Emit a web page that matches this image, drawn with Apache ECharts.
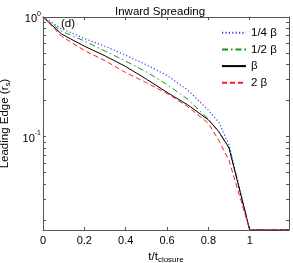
<!DOCTYPE html>
<html><head><meta charset="utf-8">
<script src="https://cdn.jsdelivr.net/npm/echarts@6/dist/echarts.min.js"></script>
<style>html,body{margin:0;padding:0;background:#fff}#c{width:293px;height:263px}</style>
</head><body><div id="c"></div>
<script>
// ---- data ----
const YMIN = 0.0165;               // bottom of the y range (axis floor)
const tValues = [0, 0.09, 0.2, 0.3, 0.4, 0.5, 0.6, 0.7, 0.8, 0.85, 0.9, 1.0, 1.19];
const quarterBeta = [1, 0.80, 0.66, 0.569, 0.479, 0.398, 0.324, 0.245, 0.166, 0.132, 0.085, YMIN, YMIN];
const halfBeta    = [1, 0.76, 0.63, 0.519, 0.427, 0.347, 0.272, 0.205, 0.14, 0.11, 0.081, YMIN, YMIN];
const beta        = [1, 0.72, 0.57, 0.473, 0.385, 0.302, 0.234, 0.184, 0.138, 0.110, 0.080, YMIN, YMIN];
const twoBeta     = [1, 0.69, 0.525, 0.431, 0.343, 0.282, 0.229, 0.178, 0.129, 0.093, 0.063, YMIN, YMIN];
const seriesNames = ['1/4 \u03b2', '1/2 \u03b2', '\u03b2', '2 \u03b2'];
const xTickLabels = [0, 0.2, 0.4, 0.6, 0.8, 1];
const yMajor = [0.1, 1];
const yMinor = [0.02,0.03,0.04,0.05,0.06,0.07,0.08,0.09,0.1,0.2,0.3,0.4,0.5,0.6,0.7,0.8,0.9,1];

const L = Math.log10;
const pts = vals => tValues.map((t, i) => [t, L(vals[i])]);
const FONT = 'Liberation Sans, Arial, sans-serif';
const AX = '#555';

const yLabel = v => Math.abs(v) < 1e-9 ? '{b|10}{s|0}' : '{b|10}{s|' + Math.round(v) + '}';

const baseX = {
  type: 'value', min: 0, max: 1.19,
  axisLine: {show: true, onZero: false, lineStyle: {color: AX, width: 1}},
  axisTick: {show: true, inside: true, length: 3, lineStyle: {color: AX}, customValues: xTickLabels},
  splitLine: {show: false}
};
const baseY = {
  type: 'value', min: L(YMIN), max: 0,
  axisLine: {show: true, onZero: false, lineStyle: {color: AX, width: 1}},
  axisTick: {show: true, inside: true, length: 3, lineStyle: {color: AX}, customValues: yMinor.map(L)},
  splitLine: {show: false}
};

const chart = echarts.init(document.getElementById('c'), null, {renderer: 'canvas'});
chart.setOption({
  animation: false,
  backgroundColor: '#fff',
  title: [
    {text: 'Inward Spreading', left: 110, top: 1,
      textStyle: {fontFamily: FONT, fontSize: 11.5, fontWeight: 'normal', color: '#000'}},
    {text: '(d)', left: 61, top: 18, padding: 0,
      textStyle: {fontFamily: FONT, fontSize: 11.5, fontWeight: 'normal', color: '#000'}}
  ],
  grid: {left: 43, right: 4, top: 17, bottom: 33, containLabel: false, outerBoundsMode: 'none'},
  legend: {
    orient: 'vertical', left: 221, top: 26.7, padding: 0, itemWidth: 24, itemHeight: 10, itemGap: 4.7,
    itemStyle: {opacity: 0},
    textStyle: {fontFamily: FONT, fontSize: 11.5, color: '#000'},
    data: seriesNames
  },
  xAxis: [
    Object.assign({}, baseX, {position: 'bottom',
      name: '{a|t/t}{s|closure}', nameLocation: 'middle', nameGap: 18,
      nameTextStyle: {fontFamily: FONT, color: '#000', rich: {
        a: {fontFamily: FONT, fontSize: 11.5, color: '#000'},
        s: {fontFamily: FONT, fontSize: 8, color: '#000', padding: [5, 0, 0, 0]}}},
      axisLabel: {show: true, customValues: xTickLabels, margin: 5,
        fontFamily: FONT, fontSize: 11, color: '#000', formatter: v => String(v)}}),
    Object.assign({}, baseX, {position: 'top', axisLabel: {show: false}})
  ],
  yAxis: [
    Object.assign({}, baseY, {position: 'left',
      name: '{a|Leading Edge (r}{s|s}{a|)}', nameLocation: 'middle', nameGap: 25, nameRotate: 90,
      nameTextStyle: {fontFamily: FONT, color: '#000', rich: {
        a: {fontFamily: FONT, fontSize: 11.5, color: '#000'},
        s: {fontFamily: FONT, fontSize: 8, color: '#000', padding: [5, 0, 0, 0]}}},
      axisLabel: {show: true, customValues: yMajor.map(L), margin: 2, formatter: yLabel,
        rich: {
          b: {fontFamily: FONT, fontSize: 11, color: '#000', padding: [4, 0, 0, 0]},
          s: {fontFamily: FONT, fontSize: 7, color: '#000', padding: [0, 0, 6, 0]}
        }}}),
    Object.assign({}, baseY, {position: 'right', axisLabel: {show: false}})
  ],
  series: [
    {name: seriesNames[0], type: 'line', data: pts(quarterBeta), symbol: 'none', clip: true,
      lineStyle: {color: '#3a3aff', width: 1.2, type: [1.2, 2.2]}, itemStyle: {color: '#3a3aff'}},
    {name: seriesNames[1], type: 'line', data: pts(halfBeta), symbol: 'none', clip: true,
      lineStyle: {color: '#169616', width: 1, type: [6, 3, 1.5, 3]}, itemStyle: {color: '#169616'}},
    {name: seriesNames[2], type: 'line', data: pts(beta), symbol: 'none', clip: true,
      lineStyle: {color: '#000', width: 1, type: 'solid'}, itemStyle: {color: '#000'}},
    {name: seriesNames[3], type: 'line', data: pts(twoBeta), symbol: 'none', clip: true,
      lineStyle: {color: '#ff1a1a', width: 1, type: [5, 3]}, itemStyle: {color: '#ff1a1a'}}
  ]
});
</script></body></html>
